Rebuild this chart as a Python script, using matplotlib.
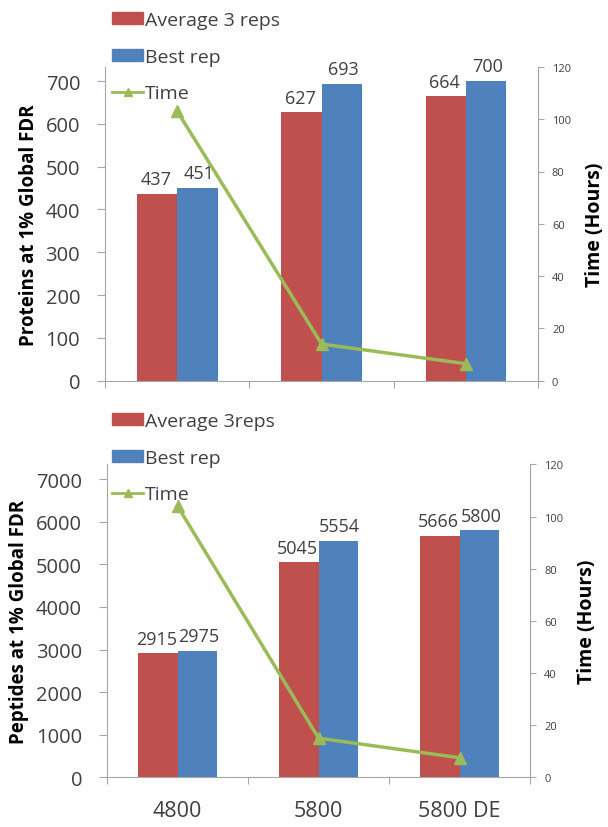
import matplotlib.pyplot as plt
from matplotlib.lines import Line2D
from matplotlib.patches import Patch

categories = ["4800", "5800", "5800 DE"]

protein_avg = [437, 627, 664]
protein_best = [451, 693, 700]
peptide_avg = [2915, 5045, 5666]
peptide_best = [2975, 5554, 5800]

time_top = [103, 14, 6.5]
time_bottom = [104, 15, 7.5]

RED = "#c0504d"
BLUE = "#4f81bd"
GREEN = "#9bbb59"
GREY = "#a6a6a6"
TEXT = "#404040"

plt.rcParams["font.family"] = ["Open Sans", "DejaVu Sans"]

fig = plt.figure(figsize=(6.08, 8.28), dpi=100)


def panel(rect, avg, best, time, ylim, yticks, ylabel, avg_label, show_x,
          leg_top):
    ax = fig.add_axes(rect)
    x = list(range(len(categories)))
    w = 0.28
    ax.bar([i - w / 2 for i in x], avg, w, color=RED, zorder=2)
    ax.bar([i + w / 2 for i in x], best, w, color=BLUE, zorder=2)
    for i in x:
        ax.annotate(str(avg[i]), (i - w / 2, avg[i]), xytext=(-1, 4),
                    textcoords="offset points", ha="center", va="bottom",
                    fontsize=13, color=TEXT)
        ax.annotate(str(best[i]), (i + w / 2, best[i]), xytext=(1, 4),
                    textcoords="offset points", ha="center", va="bottom",
                    fontsize=13, color=TEXT)

    ax.set_xlim(-0.5, len(categories) - 0.5)
    ax.set_ylim(*ylim)
    ax.set_yticks(yticks)
    ax.tick_params(axis="y", labelsize=14.5, colors=GREY, labelcolor=TEXT,
                   length=6, pad=12, direction="out")
    # category boundary ticks on the x axis
    ax.set_xticks([i - 0.5 for i in range(len(categories) + 1)])
    ax.set_xticklabels([])
    ax.tick_params(axis="x", colors=GREY, length=5, direction="out")
    if show_x:
        ax.set_xticks(x, minor=True)
        ax.set_xticklabels(categories, minor=True)
        ax.tick_params(axis="x", which="minor", length=0, labelsize=15.5,
                       labelcolor=TEXT, pad=16)
    for side in ["left", "bottom", "right"]:
        ax.spines[side].set_color(GREY)
    ax.spines["top"].set_visible(False)
    ax.set_ylabel(ylabel, fontsize=13.5, fontweight="bold", color="black",
                  labelpad=5)

    ax2 = ax.twinx()
    ax2.plot(x, time, color=GREEN, lw=2.5, marker="^", markersize=8, zorder=3)
    ax2.set_ylim(0, 120)
    ax2.set_yticks(range(0, 121, 20))
    ax2.tick_params(axis="y", labelsize=8, colors=GREY, labelcolor=TEXT,
                    length=4, pad=6)
    ax2.spines["right"].set_color(GREY)
    ax2.spines["left"].set_visible(False)
    ax2.spines["top"].set_visible(False)
    ax2.spines["bottom"].set_visible(False)
    ax2.set_ylabel("Time (Hours)", fontsize=14, fontweight="bold",
                   color="black", labelpad=10)

    handles = [
        Patch(color=RED, label=avg_label),
        Patch(color=BLUE, label="Best rep"),
        Line2D([0], [0], color=GREEN, lw=2, marker="^", markersize=6,
               label="Time"),
    ]
    leg = ax2.legend(handles=handles, loc="upper left",
                     bbox_to_anchor=(112 / 608, 1 - leg_top / 828),
                     bbox_transform=fig.transFigure, frameon=False,
                     fontsize=14, handlelength=1.6, handleheight=0.6,
                     handletextpad=0.1, labelspacing=0.96, borderaxespad=0.0,
                     borderpad=0.0)
    for t in leg.get_texts():
        t.set_color(TEXT)
    return ax


panel([0.173, 0.539, 0.712, 0.379], protein_avg, protein_best, time_top,
      (0, 733), range(0, 701, 100), "Proteins at 1% Global FDR",
      "Average 3 reps", False, 12)
panel([0.176, 0.060, 0.696, 0.378], peptide_avg, peptide_best, time_bottom,
      (0, 7350), range(0, 7001, 1000), "Peptides at 1% Global FDR",
      "Average 3reps", True, 413)

fig.savefig("out.png", dpi=100)
